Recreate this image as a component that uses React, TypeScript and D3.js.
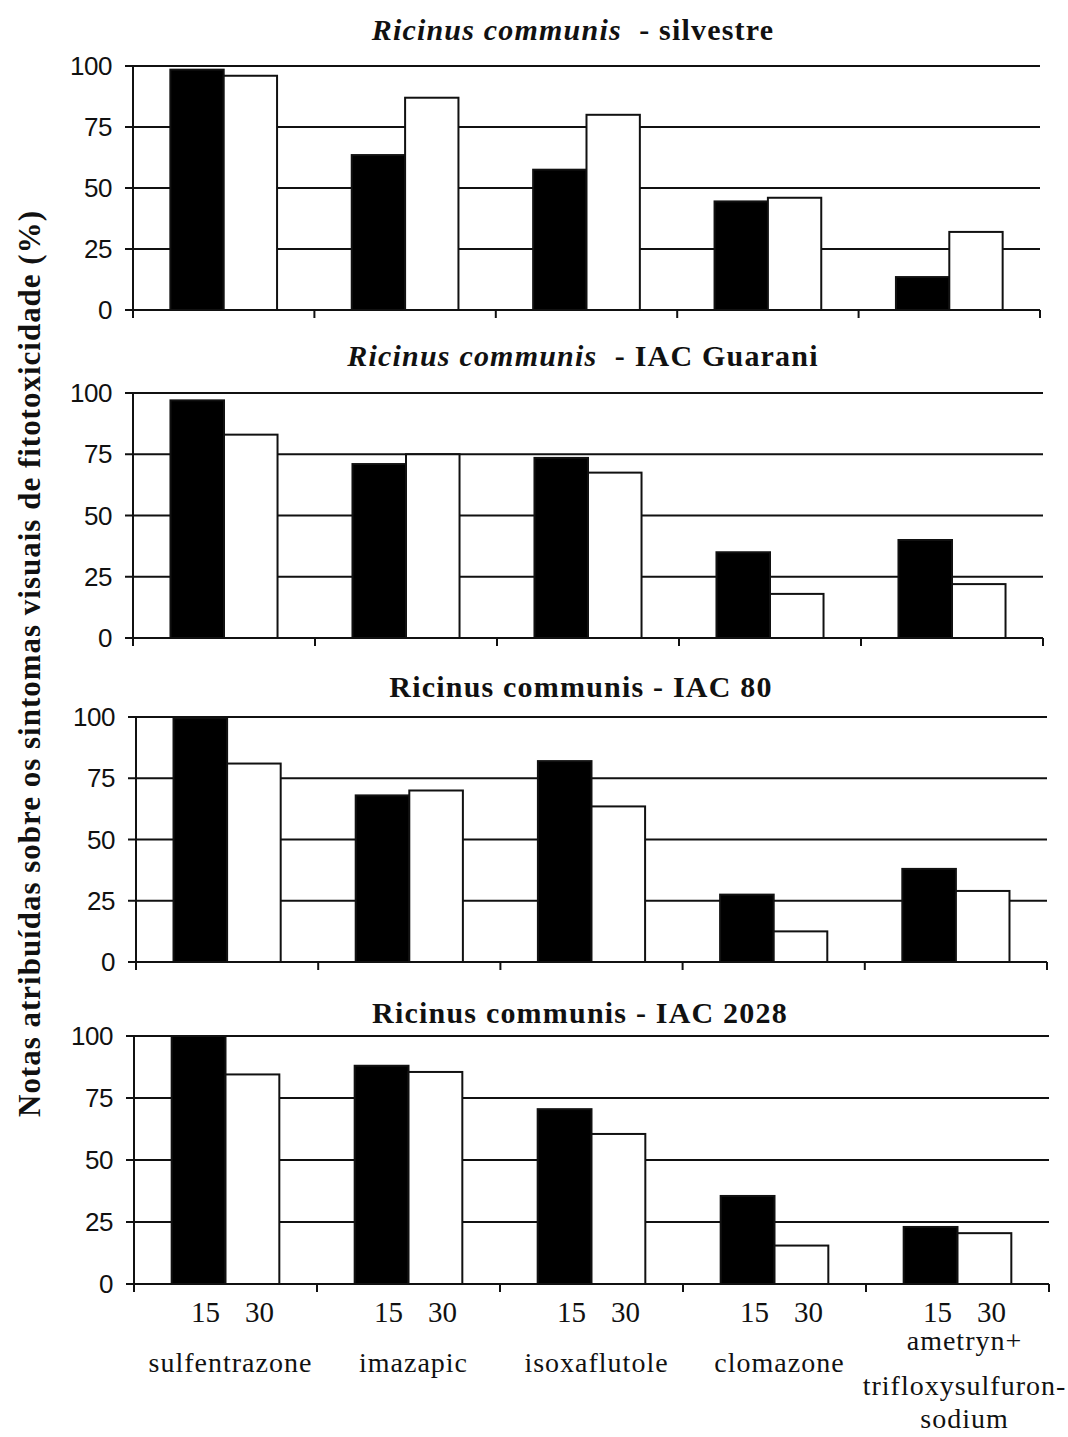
import * as d3 from 'd3';

// herbicides on the x axis, days after application as the two bars
const categories = ['sulfentrazone', 'imazapic', 'isoxaflutole', 'clomazone', 'ametryn+trifloxysulfuron-sodium'];
const categoryLines = [['sulfentrazone'], ['imazapic'], ['isoxaflutole'], ['clomazone'], ['ametryn+', 'trifloxysulfuron-', 'sodium']];
const periods = ['15', '30'];
const yTicks = [0, 25, 50, 75, 100];

const silvestre15 = [98.5, 63.5, 57.5, 44.5, 13.5];
const silvestre30 = [96, 87, 80, 46, 32];
const guarani15 = [97, 71, 73.5, 35, 40];
const guarani30 = [83, 75, 67.5, 18, 22];
const iac80_15 = [99.5, 68, 82, 27.5, 38];
const iac80_30 = [81, 70, 63.5, 12.5, 29];
const iac2028_15 = [100, 88, 70.5, 35.5, 23];
const iac2028_30 = [84.5, 85.5, 60.5, 15.5, 20.5];

const panels = [
  { italic: 'Ricinus communis', rest: '  - silvestre', v15: silvestre15, v30: silvestre30,
    left: 133, right: 1040, top: 66, bottom: 310, titleX: 573, titleY: 40 },
  { italic: 'Ricinus communis', rest: '  - IAC Guarani', v15: guarani15, v30: guarani30,
    left: 133, right: 1043, top: 393, bottom: 638, titleX: 583, titleY: 366 },
  { italic: '', rest: 'Ricinus communis - IAC 80', v15: iac80_15, v30: iac80_30,
    left: 136, right: 1047, top: 717, bottom: 962, titleX: 581, titleY: 697 },
  { italic: '', rest: 'Ricinus communis - IAC 2028', v15: iac2028_15, v30: iac2028_30,
    left: 134, right: 1049, top: 1036, bottom: 1284, titleX: 580, titleY: 1023 },
];

const ink = '#111';
const multiLineY = [66, 111, 144];

function Panel({ p, last }) {
  const x0 = d3.scaleBand().domain(categories).range([p.left, p.right]).paddingInner(0).paddingOuter(0);
  const x1 = d3.scaleBand().domain(periods).range([0, x0.bandwidth()]).paddingInner(0).paddingOuter(0.7);
  const y = d3.scaleLinear().domain([0, 100]).range([p.bottom, p.top]);
  const bounds = [...categories.map(c => x0(c)), p.right];

  return (
    <g>
      <text x={p.titleX} y={p.titleY} textAnchor="middle" fontFamily="'Liberation Serif', serif"
        fontWeight="bold" fontSize={30} letterSpacing={1.2} fill={ink} style={{ whiteSpace: 'pre' }}>
        {p.italic && <tspan fontStyle="italic">{p.italic}</tspan>}
        <tspan>{p.rest}</tspan>
      </text>

      {/* gridlines */}
      {yTicks.filter(t => t > 0).map(t => (
        <line key={t} x1={p.left} x2={p.right} y1={y(t)} y2={y(t)} stroke={ink} strokeWidth={2} />
      ))}

      {/* bars */}
      {categories.map((c, i) => (
        <g key={c} transform={`translate(${x0(c)},0)`}>
          <rect x={x1('15')} y={y(p.v15[i])} width={x1.bandwidth()} height={y(0) - y(p.v15[i])}
            fill="#000" stroke={ink} strokeWidth={2} />
          <rect x={x1('30')} y={y(p.v30[i])} width={x1.bandwidth()} height={y(0) - y(p.v30[i])}
            fill="#fff" stroke={ink} strokeWidth={2} />
        </g>
      ))}

      {/* axes */}
      <line x1={p.left} x2={p.left} y1={p.top} y2={p.bottom + 8} stroke={ink} strokeWidth={2} />
      <line x1={p.left} x2={p.right} y1={p.bottom} y2={p.bottom} stroke={ink} strokeWidth={2} />
      {bounds.map((b, i) => (
        <line key={i} x1={b} x2={b} y1={p.bottom} y2={p.bottom + 8} stroke={ink} strokeWidth={2} />
      ))}
      {yTicks.map(t => (
        <g key={t}>
          <line x1={p.left - 8} x2={p.left} y1={y(t)} y2={y(t)} stroke={ink} strokeWidth={2} />
          <text x={p.left - 21} y={y(t) + 9} textAnchor="end" fontFamily="'Liberation Sans', Arial, sans-serif"
            fontSize={26} letterSpacing={-0.5} fill={ink}>{t}</text>
        </g>
      ))}

      {last && categories.map((c, i) => (
        <g key={c}>
          {periods.map(per => (
            <text key={per} x={x0(c) + x1(per) + x1.bandwidth() / 2 + 7} y={p.bottom + 38} textAnchor="middle"
              fontFamily="'Liberation Serif', serif" fontSize={29} fill={ink}>{per}</text>
          ))}
          {categoryLines[i].length === 1 ? (
            <text x={x0(c) + x0.bandwidth() / 2 + 5} y={p.bottom + 88} textAnchor="middle"
              fontFamily="'Liberation Serif', serif" fontSize={28} letterSpacing={1} fill={ink}>{c}</text>
          ) : categoryLines[i].map((ln, k) => (
            <text key={k} x={x0(c) + x0.bandwidth() / 2 + 7} y={p.bottom + multiLineY[k]} textAnchor="middle"
              fontFamily="'Liberation Serif', serif" fontSize={28} letterSpacing={1} fill={ink}>{ln}</text>
          ))}
        </g>
      ))}
    </g>
  );
}

export default function App() {
  return (
    <svg width={1068} height={1437} style={{ position: 'absolute', left: 0, top: 0, background: '#fff' }}>
      <rect width={1068} height={1437} fill="#fff" />
      <text transform="translate(40,664) rotate(-90)" textAnchor="middle" fontFamily="'Liberation Serif', serif"
        fontWeight="bold" fontSize={31} textLength={906} lengthAdjust="spacing" fill={ink}>
        Notas atribuídas sobre os sintomas visuais de fitotoxicidade (%)
      </text>
      {panels.map((p, i) => (
        <Panel key={i} p={p} last={i === panels.length - 1} />
      ))}
    </svg>
  );
}
